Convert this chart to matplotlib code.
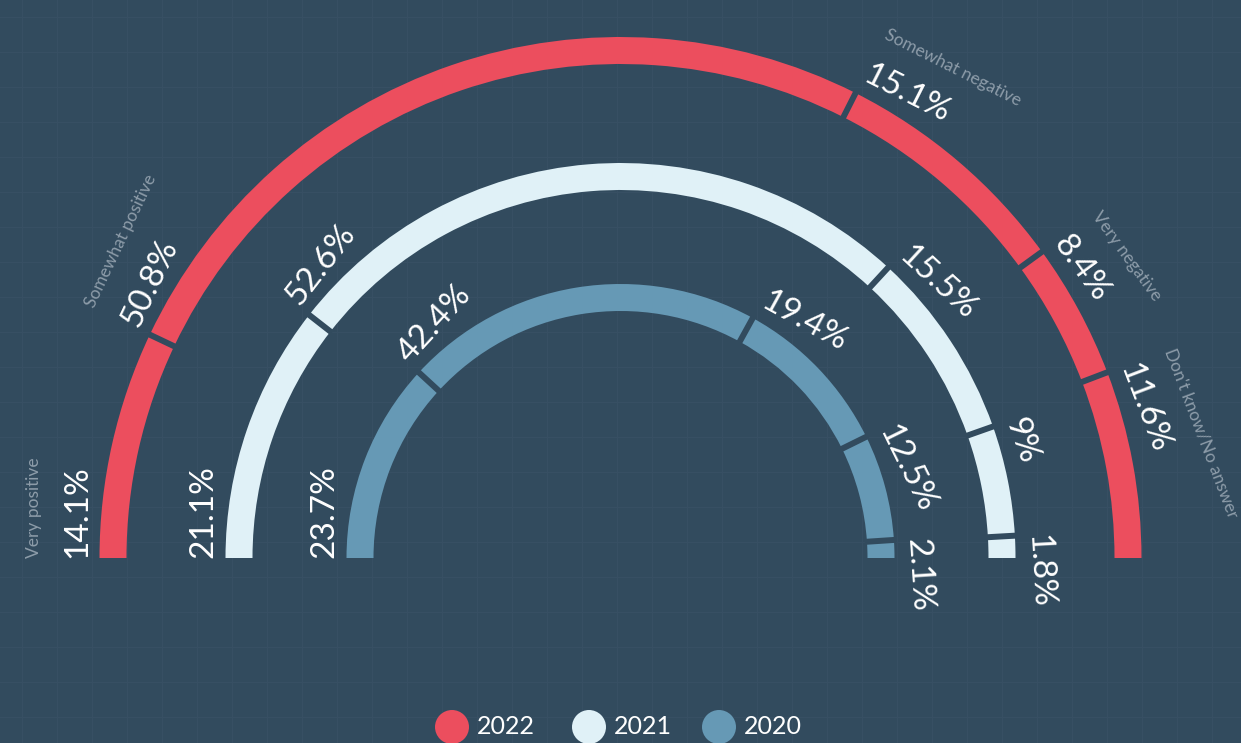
import numpy as np
import matplotlib.pyplot as plt
from matplotlib.patches import Wedge, Circle

# data
categories = ['Very positive', 'Somewhat positive', 'Somewhat negative',
              'Very negative', "Don't know/No answer"]
years = ['2022', '2021', '2020']
v2022 = [14.1, 50.8, 15.1, 8.4, 11.6]
v2021 = [21.1, 52.6, 15.5, 9, 1.8]
v2020 = [23.7, 42.4, 19.4, 12.5, 2.1]
labels2022 = ['14.1%', '50.8%', '15.1%', '8.4%', '11.6%']
labels2021 = ['21.1%', '52.6%', '15.5%', '9%', '1.8%']
labels2020 = ['23.7%', '42.4%', '19.4%', '12.5%', '2.1%']

colors = ['#EC4E5E', '#E0F1F7', '#6699B5']
bg = '#324B5E'
grid_c = '#374F63'
grey = '#8D9CA9'

plt.rcParams['font.family'] = ['Lato', 'DejaVu Sans']

W, H = 1241, 743
fig = plt.figure(figsize=(W / 100, H / 100), dpi=100)
fig.patch.set_facecolor(bg)
ax = fig.add_axes([0, 0, 1, 1])
ax.set_facecolor(bg)
ax.set_xlim(0, W)
ax.set_ylim(0, H)
ax.axis('off')

# faint background grid
for gx in np.arange(22, W, 35):
    ax.axvline(gx, color=grid_c, lw=0.8, zorder=0)
for gy in np.arange(17, H, 35):
    ax.axhline(H - gy, color=grid_c, lw=0.8, zorder=0)

cx, cy = 620.5, H - 558
ring_w = 27
rings = [(v2022, labels2022, 521), (v2021, labels2021, 395), (v2020, labels2020, 274)]

for k, (vals, labs, r_out) in enumerate(rings):
    total = sum(vals)
    cum = 0
    for i, v in enumerate(vals):
        a_start = 180 - cum / total * 180
        a_end = 180 - (cum + v) / total * 180
        ax.add_patch(Wedge((cx, cy), r_out, a_end, a_start, width=ring_w,
                           facecolor=colors[k], edgecolor='none', zorder=2))
        # gap between segments
        if i > 0:
            t = np.radians(a_start)
            rr = np.array([r_out - ring_w - 2, r_out + 2])
            ax.plot(cx + rr * np.cos(t), cy + rr * np.sin(t), color=bg,
                    lw=4.3, solid_capstyle='butt', zorder=3)
        # value label
        t = np.radians(a_start)
        rp = r_out + 7
        ax.text(cx + rp * np.cos(t), cy + rp * np.sin(t), labs[i],
                rotation=a_start - 90, rotation_mode='anchor',
                ha='left', va='bottom', fontsize=24, color='white', zorder=4)
        # category label (outer ring only)
        if k == 0:
            rc = r_out + 58
            ax.text(cx + rc * np.cos(t), cy + rc * np.sin(t), categories[i],
                    rotation=a_start - 90, rotation_mode='anchor',
                    ha='left', va='bottom', fontsize=12.5, color=grey, zorder=4)
        cum += v

# legend
leg_x = [452, 589, 719]
for k, yr in enumerate(years):
    ax.add_patch(Circle((leg_x[k], H - 727), 17, facecolor=colors[k],
                        edgecolor='none', zorder=4))
    ax.text(leg_x[k] + 25, H - 727, yr, ha='left', va='center',
            fontsize=18, color='white', zorder=4)

fig.savefig('out.png', dpi=100, facecolor=bg)
